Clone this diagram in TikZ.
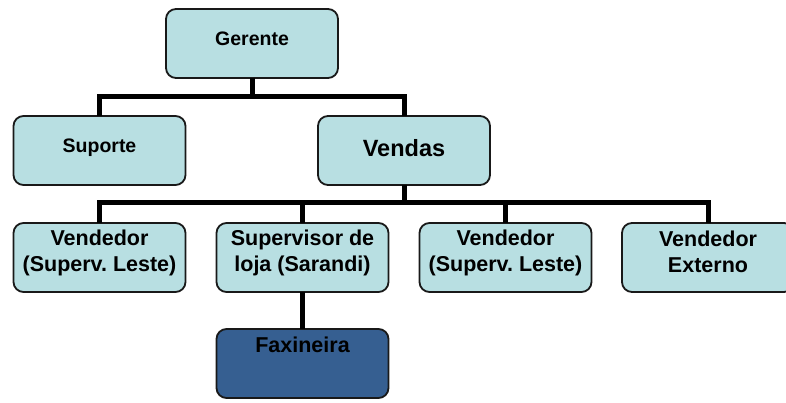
\documentclass[tikz,border=0pt]{standalone}
\usepackage{fontspec}
\setmainfont{Liberation Sans}
\frenchspacing
\definecolor{boxfill}{RGB}{184,223,226}
\definecolor{boxdark}{RGB}{54,95,145}
\begin{document}
\begin{tikzpicture}[x=1pt,y=1pt,
  box/.style={draw=black!90, line width=1.8pt, rounded corners=10pt, fill=boxfill,
    minimum width=172pt, minimum height=69pt, inner sep=0pt, outer sep=0pt},
  conn/.style={line width=5pt, draw=black},
  txtS/.style={font=\fontsize{19.5}{23}\selectfont\bfseries, inner sep=0pt, anchor=base},
  txtL/.style={font=\fontsize{23.5}{28}\selectfont\bfseries, inner sep=0pt, anchor=base},
  txtM/.style={font=\fontsize{21.5}{26}\selectfont\bfseries, inner sep=0pt, anchor=base, align=center}]
\useasboundingbox (0,0) rectangle (786,403);
\clip (0,0) rectangle (786,403);

% boxes
\node[box] (ger) at (252,359.5) {};
\node[box] (sup) at (99.5,252.5) {};
\node[box] (ven) at (404,252.5) {};
\node[box] (vl1) at (99.5,145.5) {};
\node[box] (sl)  at (302.5,145.5) {};
\node[box] (vl2) at (505.5,145.5) {};
\node[box] (vex) at (708,145.5) {};
\node[box, fill=boxdark] (fax) at (302.5,39.5) {};

% junction points of the tree
\coordinate (j1) at (252,306);
\coordinate (j2) at (404,200);

% connectors
\draw[conn] (ger.south) -- (j1);
\draw[conn] (sup.north) |- (j1) -| (ven.north);
\draw[conn] (ven.south) -- (j2);
\draw[conn] (vl1.north) |- (j2) -| (vex.north);
\draw[conn] (sl.north) -- (sl.north |- j2);
\draw[conn] (vl2.north) -- (vl2.north |- j2);
\draw[conn] (sl.south) -- (fax.north);

% labels (multi-line labels sit on the baseline of their last line)
\node[txtS] (tger) at (252,357) {Gerente};
\node[txtS] (tsup) at (99.5,250) {Suporte};
\node[txtL] (tven) at (404,246) {Vendas};
\node[txtM] (tvl1) at (99.5,131) {Vendedor\\(Superv. Leste)};
\node[txtM] (tsl)  at (302.5,131) {Supervisor de\\loja (Sarandi)};
\node[txtM] (tvl2) at (505.5,131) {Vendedor\\(Superv. Leste)};
\node[txtM] (tvex) at (708,130) {Vendedor\\Externo};
\node[txtM] (tfax) at (302.5,50) {Faxineira};
\end{tikzpicture}
\end{document}
